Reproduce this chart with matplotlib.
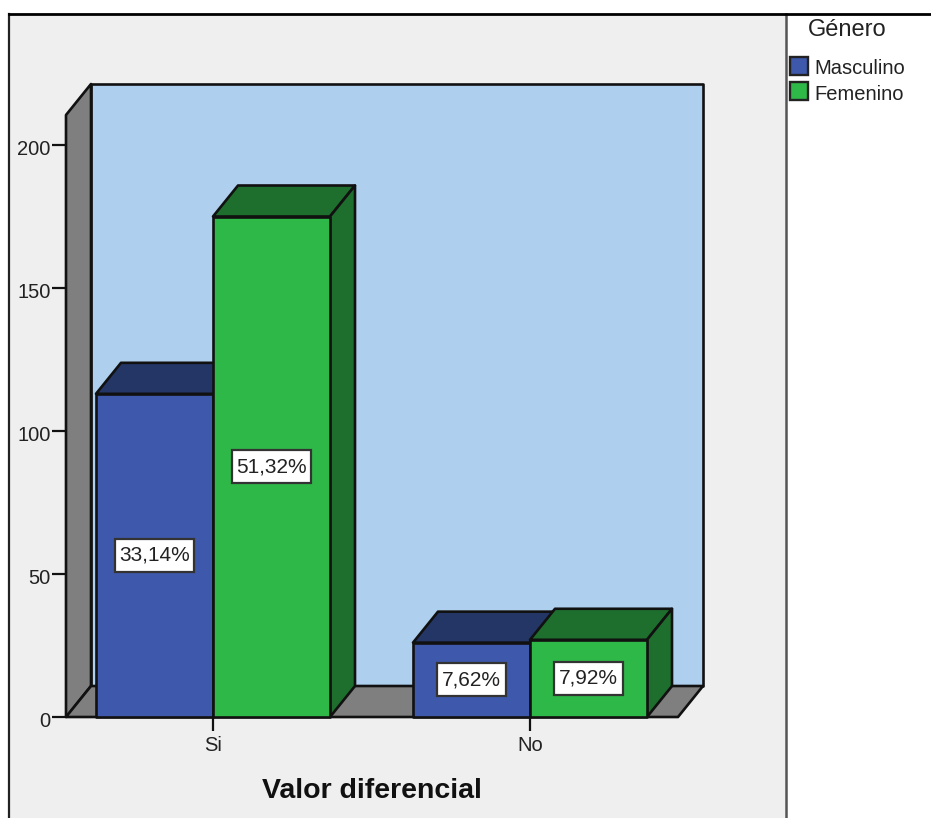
# -*- coding: utf-8 -*-
import matplotlib
matplotlib.use('Agg')
import matplotlib.pyplot as plt
from matplotlib.patches import Polygon, Rectangle
from matplotlib.lines import Line2D
from matplotlib.path import Path
from matplotlib.transforms import ScaledTranslation

# datos
categorias = ['Si', 'No']
generos = ['Masculino', 'Femenino']
masculino = [113, 26]
femenino = [175, 27]
pct_masculino = ['33,14%', '7,62%']
pct_femenino = ['51,32%', '7,92%']
y_ticks = [0, 50, 100, 150, 200]

# colores
c_frente = ['#3E58AC', '#2EB848']
c_sombra = ['#233666', '#1E6F2E']
c_pared = '#AED0EE'
c_gris = '#7F7F7F'
c_panel = '#EFEFEF'
c_texto = '#222222'

W, H = 931, 818
plt.rcParams['font.family'] = ['Liberation Sans', 'DejaVu Sans']
fig = plt.figure(figsize=(W / 100, H / 100), dpi=100, facecolor='white')


def fx(px):
    return px / W


def fy(py):
    return 1 - py / H


# marco del grafico
fig.add_artist(Rectangle((fx(9), 0), fx(786 - 9), fy(14), transform=fig.transFigure,
                         facecolor=c_panel, edgecolor='none', zorder=-2))
fig.add_artist(Line2D([fx(9), fx(9)], [0, fy(14)], color='#222222', lw=1.6, zorder=-1))
fig.add_artist(Line2D([fx(786), fx(786)], [0, fy(14)], color='#555555', lw=1.8, zorder=-1))
fig.add_artist(Line2D([fx(9), 1], [fy(14), fy(14)], color='black', lw=2.0, zorder=-1))

# ejes: la cara frontal va de x=66 a x=678 px y de y=717 a y=115 px
ax = fig.add_axes([fx(66), fy(717), fx(678 - 66), (717 - 115) / H])
ax.patch.set_visible(False)
for s in ax.spines.values():
    s.set_visible(False)

unidad_x = 317.0  # px entre categorias
unidad_y = 2.86  # px por unidad
x0, x1 = (66 - 213) / unidad_x, (678 - 213) / unidad_x
y_max = (717 - 115) / unidad_y
ax.set_xlim(x0, x1)
ax.set_ylim(0, y_max)
dx = 25 / unidad_x
dy = 31 / unidad_y
ancho = 117 / unidad_x

lw = 1.9
kw = dict(edgecolor='#111111', lw=lw, joinstyle='round', clip_on=False)

# pared de fondo, pared izquierda y suelo
ax.add_patch(Polygon([(x0 + dx, dy), (x1 + dx, dy), (x1 + dx, y_max + dy), (x0 + dx, y_max + dy)],
                     facecolor=c_pared, zorder=1, **kw))
ax.add_patch(Polygon([(x0, 0), (x0 + dx, dy), (x0 + dx, y_max + dy), (x0, y_max)],
                     facecolor=c_gris, zorder=1.1, **kw))
ax.add_patch(Polygon([(x0, 0), (x0 + dx, dy), (x1 + dx, dy), (x1, 0)],
                     facecolor=c_gris, zorder=1.2, **kw))


def barra(xa, h, i, z):
    xb = xa + ancho
    ax.add_patch(Polygon([(xa, h), (xa + dx, h + dy), (xb + dx, h + dy), (xb, h)],
                         facecolor=c_sombra[i], zorder=z, **kw))
    ax.add_patch(Polygon([(xb, 0), (xb + dx, dy), (xb + dx, h + dy), (xb, h)],
                         facecolor=c_sombra[i], zorder=z, **kw))
    ax.add_patch(Polygon([(xa, 0), (xb, 0), (xb, h), (xa, h)],
                         facecolor=c_frente[i], zorder=z + 0.1, **kw))


# caja de etiqueta, con mas margen en vertical que en horizontal
def caja_etiqueta(x, y, w, h, size):
    px, py = 0.22 * size, 0.33 * size
    xa, xb, ya, yb = x - px, x + w + px, y - py, y + h + py
    return Path([(xa, ya), (xb, ya), (xb, yb), (xa, yb), (xa, ya)], closed=True)


caja = dict(boxstyle=caja_etiqueta, facecolor='white', edgecolor='#333333', lw=1.6)


def etiqueta(x, h, txt):
    ax.text(x, h / 2, txt, ha='center', va='center', fontsize=15, color=c_texto,
            bbox=caja, zorder=6)


for k in range(len(categorias)):
    barra(k - ancho, masculino[k], 0, 3)
    barra(k, femenino[k], 1, 4)
    etiqueta(k - ancho / 2, masculino[k], pct_masculino[k])
    etiqueta(k + ancho / 2, femenino[k], pct_femenino[k])

# ticks
ax.set_yticks(y_ticks)
ax.set_xticks(range(len(categorias)))
ax.set_xticklabels(categorias)
ax.tick_params(axis='y', length=10, width=1.6, color='#111111', labelsize=14.5,
               labelcolor=c_texto, pad=1)
ax.tick_params(axis='x', length=10, width=1.6, color='#111111', labelsize=14.5,
               labelcolor=c_texto, pad=4)
bajar = ScaledTranslation(0, -2 / 72, fig.dpi_scale_trans)
for lab in ax.get_yticklabels():
    lab.set_transform(lab.get_transform() + bajar)
ax.set_xlabel('Valor diferencial', fontsize=20.5, fontweight='bold', color='#111111', labelpad=16)

# leyenda
fig.text(fx(847), fy(30), 'Género', ha='center', va='center', fontsize=17, color=c_texto)
for i, nombre in enumerate(generos):
    top = 57 + 25 * i
    fig.add_artist(Rectangle((fx(790), fy(top + 18)), fx(18), 18 / H, transform=fig.transFigure,
                             facecolor=c_frente[i], edgecolor='#222222', lw=1.7))
    fig.text(fx(814), fy(top + 12), nombre, ha='left', va='center', fontsize=14.5, color=c_texto)

fig.savefig('out.png', dpi=100)
